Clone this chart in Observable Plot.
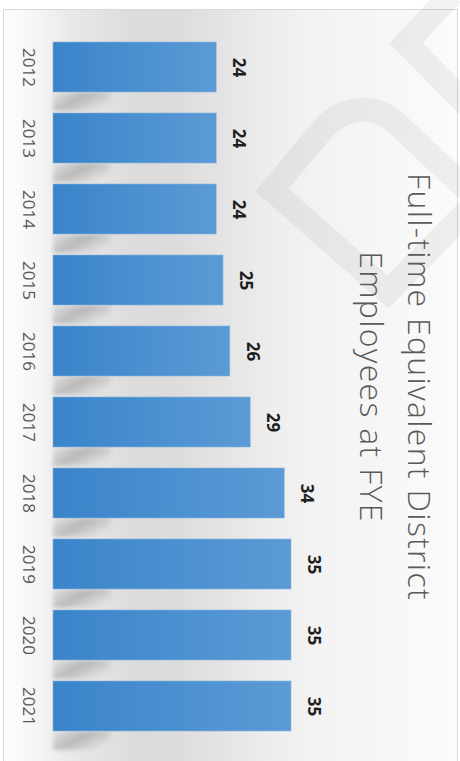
<!DOCTYPE html>
<html>
<head>
<meta charset="utf-8">
<script src="https://cdn.jsdelivr.net/npm/d3@7"></script>
<script src="https://cdn.jsdelivr.net/npm/@observablehq/plot@0.6"></script>
<style>
  html, body { margin: 0; padding: 0; background: #ffffff; }
  #wrap { position: relative; width: 460px; height: 761px; overflow: hidden; font-family: "Open Sans", "Noto Sans", sans-serif; }
  #frame { position: absolute; left: 3px; top: 9px; width: 453px; height: 770px; border: 1px solid #d9d9d9;
    background: linear-gradient(to right, #fdfdfd 0px, #f6f6f6 30px, #e8e8e8 70px, #dcdcdc 130px, #dcdcdc 170px, #e4e4e4 220px, #eeeeee 270px, #f3f3f3 320px, #f7f7f7 390px, #fbfbfb 453px); }
  #mark { position: absolute; left: 0; top: 0; }
  #chart { position: absolute; left: 0; top: 0; }
</style>
</head>
<body>
<div id="wrap">
  <div id="frame"></div>
  <svg id="mark" width="460" height="761">
    <g fill="none" stroke="rgba(0,0,0,0.05)" stroke-width="24" stroke-linejoin="miter">
      <path d="M452,-6 L406,43 L472,110"></path>
      <path d="M388,292 L272,190 L322,130 C340,108 372,102 395,122 L478,200 Z"></path>
    </g>
  </svg>
  <div id="chart"></div>
</div>
<script>
const years = ["2012", "2013", "2014", "2015", "2016", "2017", "2018", "2019", "2020", "2021"];
const fte = [24, 24, 24, 25, 26, 29, 34, 35, 35, 35];
const titleLines = ["Full-time Equivalent District", "Employees at FYE"];

const data = years.map((year, i) => ({year, value: fte[i]}));

const defs = () => {
  const d = d3.create("svg:defs");
  const g = d.append("linearGradient").attr("id", "barGrad").attr("x1", "0").attr("x2", "1").attr("y1", "0").attr("y2", "0");
  g.append("stop").attr("offset", "0").attr("stop-color", "#3a84ca");
  g.append("stop").attr("offset", "1").attr("stop-color", "#5b9bd5");
  const s = d.append("linearGradient").attr("id", "shadowGrad").attr("x1", "0").attr("x2", "1").attr("y1", "0").attr("y2", "0.6");
  s.append("stop").attr("offset", "0").attr("stop-color", "#000").attr("stop-opacity", 0.05);
  s.append("stop").attr("offset", "0.5").attr("stop-color", "#000").attr("stop-opacity", 0.2);
  s.append("stop").attr("offset", "1").attr("stop-color", "#000").attr("stop-opacity", 0);
  const f = d.append("filter").attr("id", "blur").attr("x", "-20%").attr("y", "-50%").attr("width", "140%").attr("height", "200%");
  f.append("feGaussianBlur").attr("stdDeviation", 2.2);
  return d.node();
};

const chart = Plot.plot({
  width: 460,
  height: 761,
  marginLeft: 53,
  marginRight: 67,
  marginTop: 31.5,
  marginBottom: 19.5,
  style: {background: "transparent", fontFamily: "'Open Sans', 'Noto Sans', sans-serif"},
  x: {domain: [0, 50], axis: null},
  y: {domain: years, paddingInner: 0.3, paddingOuter: 0.15, axis: null},
  marks: [
    defs,
    // soft reflection below each bar
    Plot.barX(data, {y: "year", x1: 0, x2: 8.5, insetTop: 31, dy: 19, fill: "url(#shadowGrad)", className: "shadow"}),
    Plot.barX(data, {y: "year", x: "value", fill: "url(#barGrad)", stroke: "#86b4e2", strokeWidth: 0.6}),
    Plot.text(data, {y: "year", x: "value", text: d => String(d.value), rotate: 90, dx: 22,
      textAnchor: "middle", lineAnchor: "middle", fontSize: 17, fontWeight: "bold", fill: "#1f1f1f"}),
    Plot.text(data, {y: "year", text: "year", frameAnchor: "left", dx: -25, rotate: 90,
      textAnchor: "middle", lineAnchor: "middle", fontSize: 17, fill: "#595959"}),
    Plot.text([titleLines.join("\n")], {frameAnchor: "right", dx: 6, rotate: 90,
      textAnchor: "middle", lineAnchor: "middle", lineHeight: 1.5, fontSize: 32, fontWeight: 300, fill: "#595959",
      className: "title"})
  ]
});
d3.select(chart).selectAll(".title text").style("letter-spacing", "1.3px");
d3.select(chart).selectAll(".shadow rect").attr("filter", "url(#blur)");
document.getElementById("chart").appendChild(chart);
</script>
</body>
</html>
